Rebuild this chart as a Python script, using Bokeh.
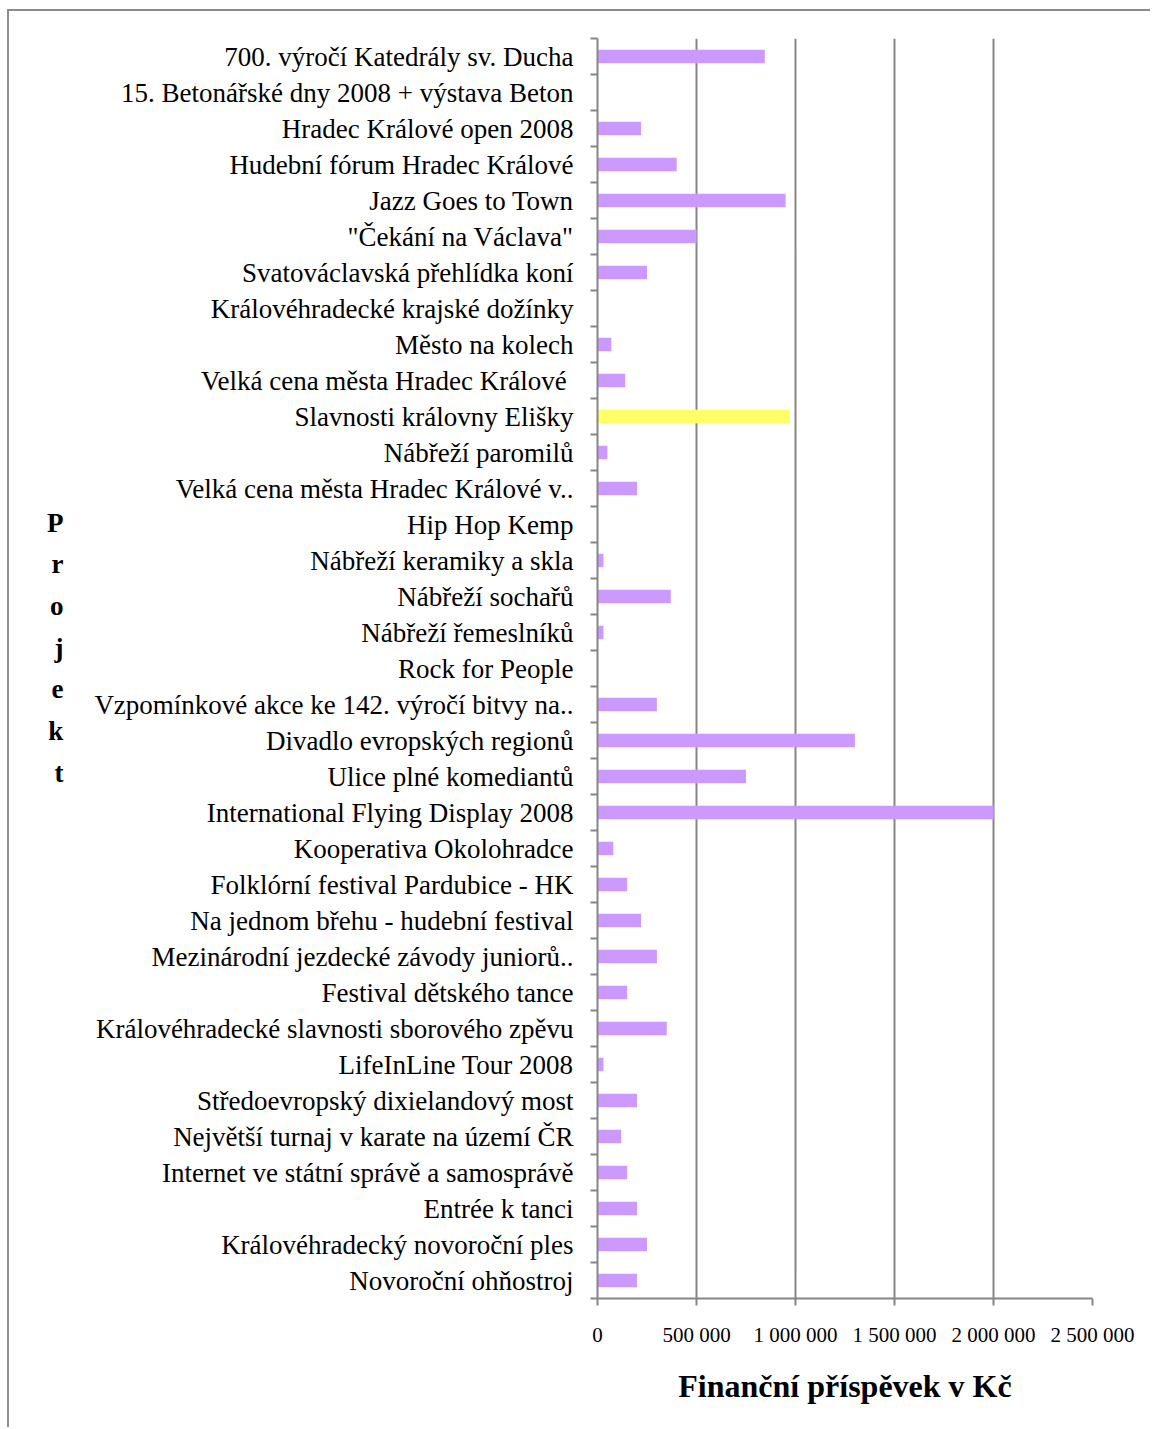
from bokeh.plotting import figure
from bokeh.models import Range1d, FixedTicker, ColumnDataSource
from bokeh.embed import file_html
from bokeh.resources import INLINE

# ---- data (top to bottom as shown) ----
projects = [
    "700. výročí Katedrály sv. Ducha",
    "15. Betonářské dny 2008 + výstava Beton",
    "Hradec Králové open 2008",
    "Hudební fórum Hradec Králové",
    "Jazz Goes to Town",
    "\"Čekání na Václava\"",
    "Svatováclavská přehlídka koní",
    "Královéhradecké krajské dožínky",
    "Město na kolech",
    "Velká cena města Hradec Králové ",
    "Slavnosti královny Elišky",
    "Nábřeží paromilů",
    "Velká cena města Hradec Králové v..",
    "Hip Hop Kemp",
    "Nábřeží keramiky a skla",
    "Nábřeží sochařů",
    "Nábřeží řemeslníků",
    "Rock for People",
    "Vzpomínkové akce ke 142. výročí bitvy na..",
    "Divadlo evropských regionů",
    "Ulice plné komediantů",
    "International Flying Display 2008",
    "Kooperativa Okolohradce",
    "Folklórní festival Pardubice - HK",
    "Na jednom břehu - hudební festival",
    "Mezinárodní jezdecké závody juniorů..",
    "Festival dětského tance",
    "Královéhradecké slavnosti sborového zpěvu",
    "LifeInLine Tour 2008",
    "Středoevropský dixielandový most",
    "Největší turnaj v karate na území ČR",
    "Internet ve státní správě a samosprávě",
    "Entrée k tanci",
    "Královéhradecký novoroční ples",
    "Novoroční ohňostroj",
]
amounts = [
    845000, 0, 220000, 400000, 950000, 500000, 250000, 0, 70000, 140000,
    970000, 50000, 200000, 0, 30000, 370000, 30000, 0, 300000, 1300000,
    750000, 2000000, 80000, 150000, 220000, 300000, 150000, 350000, 30000, 200000,
    120000, 150000, 200000, 250000, 200000,
]
highlight = "Slavnosti královny Elišky"

x_ticks = [0, 500000, 1000000, 1500000, 2000000, 2500000]
x_tick_labels = ["0", "500 000", "1 000 000", "1 500 000", "2 000 000", "2 500 000"]

x_title = "Finanční příspěvek v Kč"
y_title = "Projekt"

# ---- derived ----
n = len(projects)
ys = [n - i - 0.5 for i in range(n)]
colors = ["#FFFF66" if name == highlight else "#CC99FF" for name in projects]
src = ColumnDataSource(dict(y=ys, right=amounts, color=colors, name=projects))

FONT = "Liberation Serif"
GRAY = "#868686"

p = figure(width=1143, height=1418, output_backend="svg", toolbar_location=None,
           x_range=Range1d(0, 2500000), y_range=Range1d(0, n),
           min_border_left=588, min_border_right=60, min_border_top=27,
           min_border_bottom=131)
p.outline_line_color = None
p.background_fill_color = "white"
p.border_fill_color = "white"
p.styles = {"border-left": "2px solid #8c8c8c", "border-top": "2px solid #8c8c8c",
            "margin-left": "7px", "margin-top": "9px"}

p.hbar(y="y", right="right", left=0, height=0.38, color="color",
       line_color=None, source=src)

# x axis
xa = p.xaxis[0]
xa.ticker = FixedTicker(ticks=x_ticks, minor_ticks=[])
xa.major_label_overrides = {t: l for t, l in zip(x_ticks, x_tick_labels)}
xa.major_label_text_font = FONT
xa.major_label_text_font_size = "21px"
xa.major_label_text_color = "black"
xa.major_label_standoff = 17
xa.axis_line_color = GRAY
xa.axis_line_width = 2
xa.major_tick_line_color = GRAY
xa.major_tick_line_width = 2
xa.major_tick_out = 7
xa.major_tick_in = 0
xa.minor_tick_line_color = None
xa.axis_label = x_title
xa.axis_label_text_font = FONT
xa.axis_label_text_font_style = "bold"
xa.axis_label_text_font_size = "32px"
xa.axis_label_text_color = "black"
xa.axis_label_standoff = 18

# y axis: labels at centers, ticks at boundaries
ya = p.yaxis[0]
ya.ticker = FixedTicker(ticks=ys, minor_ticks=list(range(n + 1)))
ya.major_label_overrides = {y: name for y, name in zip(ys, projects)}
ya.major_label_text_font = FONT
ya.major_label_text_font_size = "27px"
ya.major_label_text_color = "black"
ya.major_label_standoff = 17
ya.major_tick_line_color = None
ya.major_tick_out = 0
ya.major_tick_in = 0
ya.minor_tick_line_color = GRAY
ya.minor_tick_line_width = 2
ya.minor_tick_out = 7
ya.minor_tick_in = 0
ya.axis_line_color = GRAY
ya.axis_line_width = 2
ya.axis_label = "\n".join(y_title) + "\n"
ya.axis_label_orientation = "horizontal"
ya.axis_label_text_font = FONT
ya.axis_label_text_font_style = "bold"
ya.axis_label_text_font_size = "27px"
ya.axis_label_text_line_height = 1.39
ya.axis_label_text_color = "black"
ya.axis_label_standoff = 28

p.xgrid.ticker = FixedTicker(ticks=x_ticks)
p.xgrid.grid_line_color = GRAY
p.xgrid.grid_line_width = 2
p.ygrid.grid_line_color = None

open("out.html", "w").write(file_html(p, INLINE))
